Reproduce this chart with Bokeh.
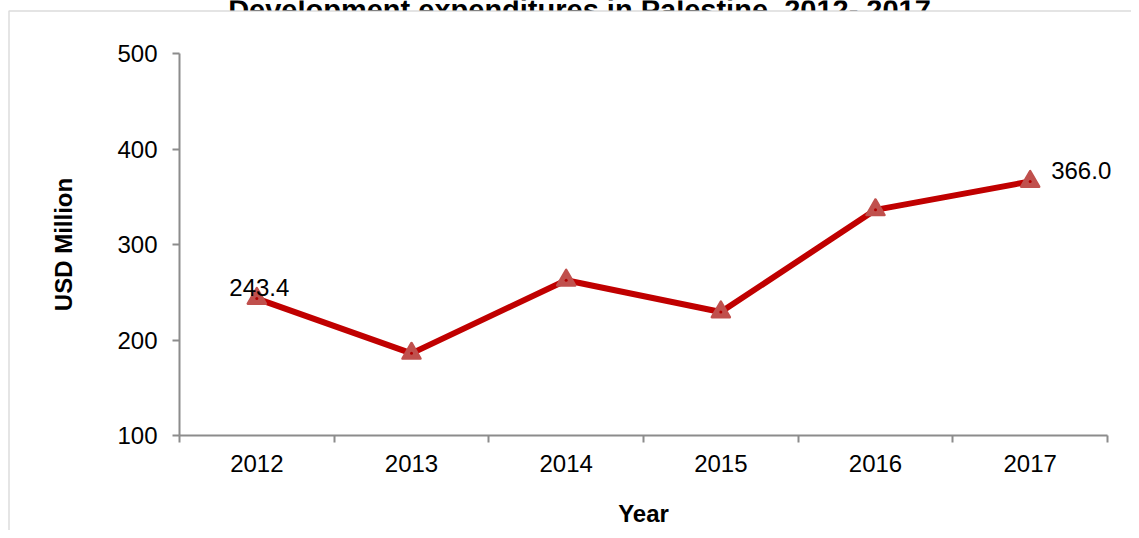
from bokeh.plotting import figure
from bokeh.models import Range1d, FixedTicker, Label, BoxAnnotation
from bokeh.embed import file_html
from bokeh.resources import INLINE

# ---- data ----
years = ["2012", "2013", "2014", "2015", "2016", "2017"]
values = [243.4, 186.0, 262.6, 229.3, 336.3, 366.0]
y_ticks = [100, 200, 300, 400, 500]
title_text = "Development expenditures in Palestine, 2012- 2017"
x_title = "Year"
y_title = "USD Million"
first_label = "243.4"
last_label = "366.0"

FONT = "Liberation Sans"
AXIS_GRAY = "#8c8c8c"

# ---- layout (pixel targets of the plot area inside the canvas) ----
W, H = 1131, 530
AX_L, AX_R, AX_T, AX_B = 179, 1107, 53, 435

n = len(years)
xs = [i + 0.5 for i in range(n)]
ppx = (AX_R - AX_L) / n
ppy = (AX_B - AX_T) / (y_ticks[-1] - y_ticks[0])
x_range = Range1d(0 - AX_L / ppx, n + (W - AX_R) / ppx)
y_range = Range1d(y_ticks[0] - (H - AX_B) / ppy, y_ticks[-1] + AX_T / ppy)

p = figure(width=W, height=H, output_backend="svg", toolbar_location=None,
           x_range=x_range, y_range=y_range,
           min_border_left=0, min_border_right=0, min_border_top=0, min_border_bottom=0)
p.grid.visible = False
p.outline_line_color = None
p.background_fill_color = "white"
p.border_fill_color = "white"

xa = p.xaxis[0]
xa.fixed_location = y_ticks[0]
xa.bounds = (0, n)
xa.ticker = FixedTicker(ticks=xs, minor_ticks=list(range(n + 1)))
xa.major_label_overrides = {xv: yr for xv, yr in zip(xs, years)}
xa.major_tick_in = 0
xa.major_tick_out = 0
xa.minor_tick_in = 0
xa.minor_tick_out = 7
xa.minor_tick_line_color = AXIS_GRAY
xa.minor_tick_line_width = 2
xa.axis_line_color = AXIS_GRAY
xa.axis_line_width = 2
xa.major_label_text_font = FONT
xa.major_label_text_font_size = "24px"
xa.major_label_text_color = "black"
xa.major_label_standoff = 12
xa.axis_label = x_title
xa.axis_label_text_font = FONT
xa.axis_label_text_font_size = "24px"
xa.axis_label_text_font_style = "bold"
xa.axis_label_text_color = "black"
xa.axis_label_standoff = 25

ya = p.yaxis[0]
ya.fixed_location = 0
ya.bounds = (y_ticks[0], y_ticks[-1])
ya.ticker = FixedTicker(ticks=y_ticks, minor_ticks=[])
ya.major_tick_in = 0
ya.major_tick_out = 7
ya.major_tick_line_color = AXIS_GRAY
ya.major_tick_line_width = 2
ya.axis_line_color = AXIS_GRAY
ya.axis_line_width = 2
ya.major_label_text_font = FONT
ya.major_label_text_font_size = "24px"
ya.major_label_text_color = "black"
ya.major_label_standoff = 15
ya.axis_label = y_title
ya.axis_label_text_font = FONT
ya.axis_label_text_font_size = "24px"
ya.axis_label_text_font_style = "bold"
ya.axis_label_text_color = "black"
ya.axis_label_standoff = 37

p.line(xs, values, line_color="#C00000", line_width=6, line_join="round")
p.scatter(xs, values, marker="triangle", size=18, fill_color="#C0504D",
          line_color="#C0504D", line_width=2.5, line_join="round")
p.scatter(xs, values, marker="circle", size=3, fill_color="#B00000", line_color=None)

p.add_layout(Label(x=xs[0], y=values[0], text=first_label, text_align="center",
                   text_baseline="alphabetic", x_offset=2.5, y_offset=11.5,
                   text_font=FONT, text_font_size="24px", text_color="black"))
p.add_layout(Label(x=xs[-1], y=values[-1], text=last_label, text_align="left",
                   text_baseline="alphabetic", x_offset=21, y_offset=10.5,
                   text_font=FONT, text_font_size="24px", text_color="black"))

# title (cut off at the top like the reference)
p.add_layout(Label(x=579, y=9.5, x_units="canvas", y_units="canvas", text=title_text,
                   text_align="center", text_baseline="alphabetic",
                   text_font=FONT, text_font_size="29px", text_font_style="bold",
                   text_color="black"))
# the chart box hides what lies below its top edge
p.add_layout(BoxAnnotation(left=9, right=3000, top=10, bottom=30,
                           left_units="canvas", right_units="canvas",
                           top_units="canvas", bottom_units="canvas",
                           fill_color="white", fill_alpha=1, line_color=None))
# outer chart border (top and left visible)
p.add_layout(BoxAnnotation(left=8.5, right=3000, top=10.5, bottom=3000,
                           left_units="canvas", right_units="canvas",
                           top_units="canvas", bottom_units="canvas",
                           fill_alpha=0, line_color="#8a8a8a", line_width=1.5))

open("out.html", "w").write(file_html(p, INLINE))
